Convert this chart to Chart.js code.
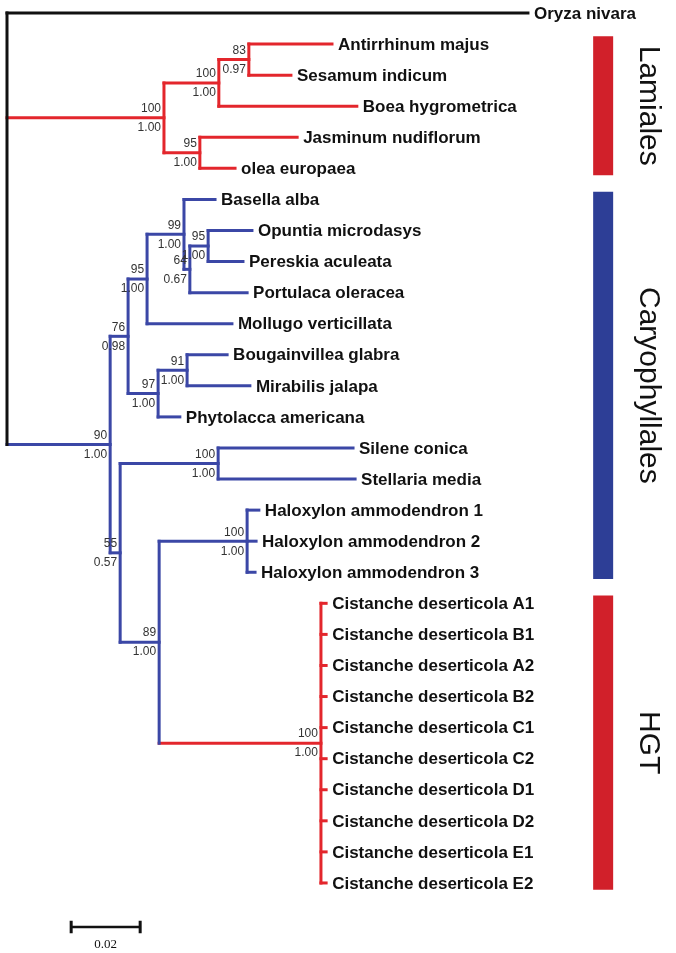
<!DOCTYPE html>
<html>
<head>
<meta charset="utf-8">
<script src="https://cdn.jsdelivr.net/npm/chart.js@4.4.1/dist/chart.umd.min.js"></script>
<style>
    html, body { margin: 0; padding: 0; background: #fff; }
    #wrap { width: 676px; height: 953px; }
</style>
</head>
<body>
<div id="wrap"><canvas id="tree" width="676" height="953"></canvas></div>
<script>
// Tips, top to bottom (row index = position in this list)
const taxa = [
    "Oryza nivara",
    "Antirrhinum majus", "Sesamum indicum", "Boea hygrometrica",
    "Jasminum nudiflorum", "olea europaea",
    "Basella alba", "Opuntia microdasys", "Pereskia aculeata",
    "Portulaca oleracea", "Mollugo verticillata",
    "Bougainvillea glabra", "Mirabilis jalapa", "Phytolacca americana",
    "Silene conica", "Stellaria media",
    "Haloxylon ammodendron 1", "Haloxylon ammodendron 2", "Haloxylon ammodendron 3",
    "Cistanche deserticola A1", "Cistanche deserticola B1",
    "Cistanche deserticola A2", "Cistanche deserticola B2",
    "Cistanche deserticola C1", "Cistanche deserticola C2",
    "Cistanche deserticola D1", "Cistanche deserticola D2",
    "Cistanche deserticola E1", "Cistanche deserticola E2",
];
// distance of each tip from the root (substitutions per site)
const tipDepth = [
    0.1510,
    0.0942, 0.0823, 0.1014, 0.0841, 0.0661,
    0.0603, 0.0710, 0.0684, 0.0696, 0.0652,
    0.0638, 0.0704, 0.0501,
    0.1003, 0.1009,
    0.0730, 0.0722, 0.0719,
    0.0925, 0.0925, 0.0925, 0.0925, 0.0925,
    0.0925, 0.0925, 0.0925, 0.0925, 0.0925,
];
const tipClade = [
    "out",
    "lam", "lam", "lam", "lam", "lam",
    "car", "car", "car", "car", "car", "car", "car", "car",
    "car", "car", "car", "car", "car",
    "hgt", "hgt", "hgt", "hgt", "hgt", "hgt", "hgt", "hgt", "hgt", "hgt",
];

// Internal nodes: numbers in children are tips, strings are nodes
const nodeIds = [
    "root", "L1", "L2", "L3", "L4",
    "C90", "C76", "C95a", "C99", "C64", "C95b", "C97", "C91",
    "C55", "S100", "C89", "H100", "CIS",
];
const nodeDepth = [
    0, 0.0455, 0.0614, 0.0701, 0.0559,
    0.0299, 0.0351, 0.0406, 0.0513, 0.0530, 0.0583, 0.0438, 0.0522,
    0.0328, 0.0612, 0.0441, 0.0696, 0.0910,
];
const nodeChildren = [
    [0, "L1", "C90"],
    ["L2", "L4"],
    ["L3", 3],
    [1, 2],
    [4, 5],
    ["C76", "C55"],
    ["C95a", "C97"],
    ["C99", 10],
    [6, "C64"],
    ["C95b", 9],
    [7, 8],
    ["C91", 13],
    [11, 12],
    ["S100", "C89"],
    [14, 15],
    ["H100", "CIS"],
    [16, 17, 18],
    [19, 20, 21, 22, 23, 24, 25, 26, 27, 28],
];
const nodeClade = [
    "out", "lam", "lam", "lam", "lam",
    "car", "car", "car", "car", "car", "car", "car", "car",
    "car", "car", "car", "car", "hgt",
];
const bootstrap = [
    "", "100", "100", "83", "95",
    "90", "76", "95", "99", "64", "95", "97", "91",
    "55", "100", "89", "100", "100",
];
const posterior = [
    "", "1.00", "1.00", "0.97", "1.00",
    "1.00", "0.98", "1.00", "1.00", "0.67", "1.00", "1.00", "1.00",
    "0.57", "1.00", "1.00", "1.00", "1.00",
];

const groupNames = ["Lamiales", "Caryophyllales", "HGT"];
const groupClade = ["lam", "car", "hgt"];
const groupFirstTip = [1, 6, 19];
const groupLastTip = [5, 18, 28];

const scaleBarValue = 0.02;
const scaleBarLabel = "0.02";

// ---- layout / style ----
const PX_PER_UNIT = 3450;
const ROOT_PX = 7;
const ROW_PX = 31.07;
const TOP_PX = 13;
const W = 676, H = 953;

const LINE_COLORS = { out: "#111111", lam: "#e3262c", car: "#3b47a6", hgt: "#e3262c" };
const BAR_COLORS = { lam: "#d1202a", car: "#2d3e96", hgt: "#d1202a" };
const BAR_DEPTH = 0.1728;
const LABEL_DEPTH = 0.1835;

const nodeIndex = Object.fromEntries(nodeIds.map((id, i) => [id, i]));
const posCache = {};

const childPos = (c) =>
    typeof c === "number" ? { x: tipDepth[c], y: c, clade: tipClade[c] } : nodePos(c);

function nodePos(id) {
    if (posCache[id]) return posCache[id];
    const i = nodeIndex[id];
    const kids = nodeChildren[i].map(childPos);
    const y = (kids[0].y + kids[kids.length - 1].y) / 2;
    posCache[id] = { x: nodeDepth[i], y, clade: nodeClade[i], kids, i };
    return posCache[id];
}

const segment = (pts, color, width = 3, cap = "square") => ({
    data: pts,
    showLine: true,
    borderColor: color,
    backgroundColor: color,
    borderWidth: width,
    borderCapStyle: cap,
    pointRadius: 0,
    fill: false,
});

const datasets = [];
nodeIds.forEach((id) => {
    const n = nodePos(id);
    const first = n.kids[0], last = n.kids[n.kids.length - 1];
    datasets.push(segment([{ x: n.x, y: first.y }, { x: n.x, y: last.y }], LINE_COLORS[n.clade]));
    n.kids.forEach((k) => {
        datasets.push(segment([{ x: n.x, y: k.y }, { x: k.x, y: k.y }], LINE_COLORS[k.clade]));
    });
});

// clade bars on the right
groupNames.forEach((g, i) => {
    datasets.push(segment(
        [{ x: BAR_DEPTH, y: groupFirstTip[i] - 0.25 }, { x: BAR_DEPTH, y: groupLastTip[i] + 0.22 }],
        BAR_COLORS[groupClade[i]], 20, "butt"
    ));
});

// scale bar
const SB_X = 0.0186, SB_Y = taxa.length + 0.42;
datasets.push(segment([{ x: SB_X, y: SB_Y }, { x: SB_X + scaleBarValue, y: SB_Y }], "#111", 2.5, "butt"));
datasets.push(segment([{ x: SB_X, y: SB_Y - 0.2 }, { x: SB_X, y: SB_Y + 0.2 }], "#111", 3, "butt"));
datasets.push(segment([{ x: SB_X + scaleBarValue, y: SB_Y - 0.2 }, { x: SB_X + scaleBarValue, y: SB_Y + 0.2 }], "#111", 3, "butt"));

const treeText = {
    id: "treeText",
    afterDatasetsDraw(chart) {
        const { ctx, scales: { x, y } } = chart;
        ctx.save();

        // tip labels
        ctx.fillStyle = "#111";
        ctx.font = "bold 17px 'Liberation Sans', Arial, sans-serif";
        ctx.textAlign = "left";
        ctx.textBaseline = "middle";
        taxa.forEach((name, i) => {
            ctx.fillText(name, x.getPixelForValue(tipDepth[i]) + 6, y.getPixelForValue(i) + 1);
        });

        // support values: bootstrap above, posterior below
        ctx.fillStyle = "#333";
        ctx.font = "12px 'Liberation Sans', Arial, sans-serif";
        ctx.textAlign = "right";
        nodeIds.forEach((id, i) => {
            if (!bootstrap[i]) return;
            const n = nodePos(id);
            const px = x.getPixelForValue(n.x) - 3;
            const py = y.getPixelForValue(n.y);
            ctx.fillText(bootstrap[i], px, py - 9);
            ctx.fillText(posterior[i], px, py + 10);
        });

        // group names, rotated
        ctx.fillStyle = "#111";
        ctx.font = "30px 'Liberation Sans', Arial, sans-serif";
        ctx.textAlign = "center";
        ctx.textBaseline = "alphabetic";
        groupNames.forEach((g, i) => {
            const cy = (y.getPixelForValue(groupFirstTip[i] - 0.25) + y.getPixelForValue(groupLastTip[i] + 0.22)) / 2;
            ctx.save();
            ctx.translate(x.getPixelForValue(LABEL_DEPTH), cy);
            ctx.rotate(Math.PI / 2);
            ctx.fillText(g, 0, 0);
            ctx.restore();
        });

        // scale bar label
        ctx.font = "13px 'Liberation Serif', 'Times New Roman', serif";
        ctx.textAlign = "center";
        ctx.textBaseline = "middle";
        ctx.fillText(scaleBarLabel, x.getPixelForValue(SB_X + scaleBarValue / 2), y.getPixelForValue(SB_Y) + 17);

        ctx.restore();
    },
};

new Chart(document.getElementById("tree"), {
    type: "scatter",
    data: { datasets },
    options: {
        responsive: false,
        animation: false,
        events: [],
        layout: { padding: 0 },
        plugins: {
            legend: { display: false },
            tooltip: { enabled: false },
        },
        elements: { line: { tension: 0 } },
        scales: {
            x: {
                type: "linear",
                display: false,
                min: -ROOT_PX / PX_PER_UNIT,
                max: (W - ROOT_PX) / PX_PER_UNIT,
            },
            y: {
                type: "linear",
                display: false,
                reverse: true,
                min: -TOP_PX / ROW_PX,
                max: (H - TOP_PX) / ROW_PX,
            },
        },
    },
    plugins: [treeText],
});
</script>
</body>
</html>
